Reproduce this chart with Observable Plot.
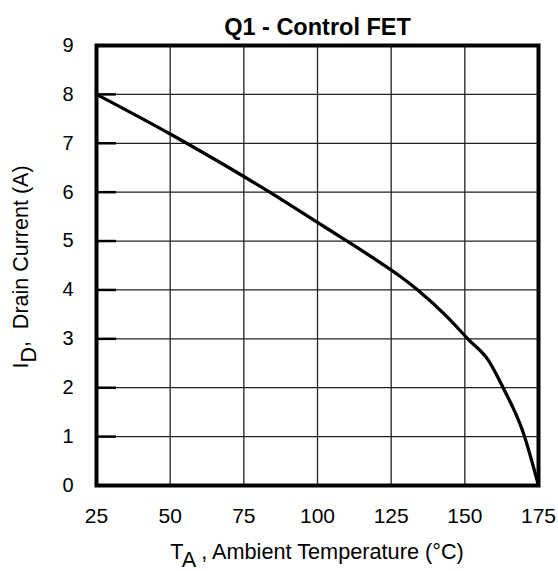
<!DOCTYPE html>
<html><head><meta charset="utf-8">
<script src="https://cdn.jsdelivr.net/npm/d3@7"></script>
<script src="https://cdn.jsdelivr.net/npm/@observablehq/plot@0.6"></script>
<style>
body{margin:0;background:#fff;}
svg{font-family:"Liberation Sans",Arial,Helvetica,sans-serif;}
</style>
</head><body><div id="chart"></div>
<script>
const title = "Q1 - Control FET";
const temperature = [25, 50, 55, 75, 83.5, 100, 109.5, 121.5, 128, 134, 144, 151, 158, 163, 170, 175];
const drainCurrent = [8.0, 7.19, 7.02, 6.32, 6.01, 5.38, 5.02, 4.55, 4.28, 4.0, 3.45, 3.0, 2.56, 2.0, 1.05, 0];
const xTicks = [25, 50, 75, 100, 125, 150, 175];
const yTicks = [0, 1, 2, 3, 4, 5, 6, 7, 8, 9];
const xLabel = {main: "T", sub: "A", rest: " , Ambient Temperature (°C)"};
const yLabel = {main: "I", sub: "D", rest: ",\u00a0 Drain Current (A)"};

const data = temperature.map((t, k) => ({t, id: drainCurrent[k]}));

const chart = Plot.plot({
  width: 558, height: 571,
  marginLeft: 96, marginRight: 20, marginTop: 45, marginBottom: 86,
  style: {fontFamily: "'Liberation Sans', Arial, sans-serif", fontSize: "20px", color: "#000", background: "#fff", overflow: "visible"},
  x: {domain: [25, 175], label: null},
  y: {domain: [0, 9], label: null},
  marks: [
    Plot.gridX(xTicks, {stroke: "#222", strokeOpacity: 1, strokeWidth: 1.3}),
    Plot.gridY(yTicks, {stroke: "#222", strokeOpacity: 1, strokeWidth: 1.3}),
    Plot.axisY(yTicks, {tickSize: -20, text: null, strokeWidth: 2.5, stroke: "#000"}),
    Plot.axisX(xTicks, {tickSize: 0, tickPadding: 23, fontSize: 21}),
    Plot.axisY(yTicks, {tickSize: 0, tickPadding: 23, fontSize: 20}),
    Plot.line(data, {x: "t", y: "id", stroke: "#000", strokeWidth: 3.3, strokeLinejoin: "round", curve: "monotone-x"}),
    Plot.frame({stroke: "#000", strokeWidth: 4}),
    Plot.text([title], {frameAnchor: "top", dy: -27, fontWeight: "bold", fontSize: 23.5})
  ]
});
document.getElementById("chart").appendChild(chart);

const svg = d3.select(chart);
const xt = svg.append("text")
  .attr("x", 317).attr("y", 559)
  .attr("text-anchor", "middle")
  .attr("font-size", 21.7).attr("fill", "#000");
xt.append("tspan").text(xLabel.main);
xt.append("tspan").attr("dy", 8).text(xLabel.sub);
xt.append("tspan").attr("dy", -8).text(xLabel.rest);

const yt = svg.append("text")
  .attr("transform", "translate(28,267) rotate(-90)")
  .attr("text-anchor", "middle")
  .attr("font-size", 21.5).attr("fill", "#000");
yt.append("tspan").text(yLabel.main);
yt.append("tspan").attr("dy", 8).text(yLabel.sub);
yt.append("tspan").attr("dy", -8).text(yLabel.rest);
</script>
</body></html>
